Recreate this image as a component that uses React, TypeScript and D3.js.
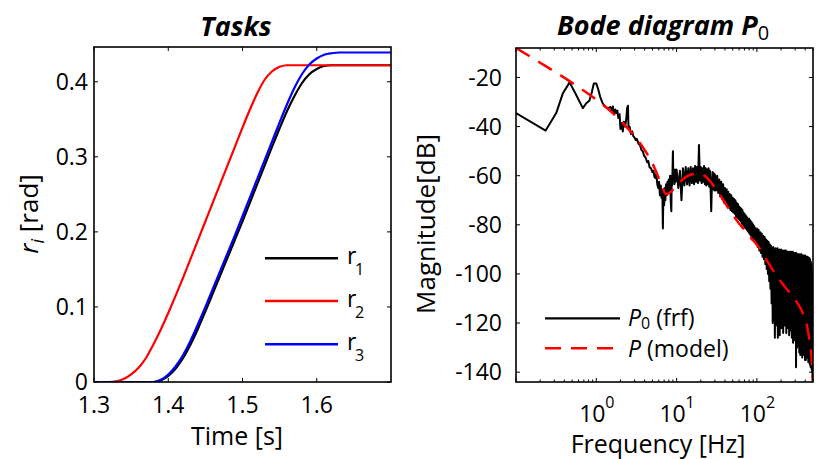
import React from "react";
import * as d3 from "d3";

// ---------- Left panel data (Tasks) ----------
const timeGrid = [
  1.30, 1.31, 1.32, 1.33, 1.34, 1.35, 1.36, 1.37, 1.38, 1.39,
  1.40, 1.41, 1.42, 1.43, 1.44, 1.45, 1.46, 1.47, 1.48, 1.49,
  1.50, 1.51, 1.52, 1.53, 1.54, 1.55, 1.56, 1.57, 1.58, 1.59,
  1.60, 1.61, 1.62, 1.63, 1.64, 1.65, 1.66, 1.67, 1.68, 1.69, 1.70,
];
const r1Values = [
  0, 0, 0, 0, 0, 0, 0, 0, 0, 0.002,
  0.008, 0.018, 0.032, 0.050, 0.071, 0.094, 0.118, 0.142, 0.166, 0.190,
  0.214, 0.239, 0.264, 0.289, 0.314, 0.338, 0.361, 0.381, 0.398, 0.410,
  0.417, 0.421, 0.422, 0.422, 0.422, 0.422, 0.422, 0.422, 0.422, 0.422, 0.422,
];
const r2Values = [
  0, 0, 0, 0.001, 0.004, 0.010, 0.019, 0.032, 0.050, 0.070,
  0.092, 0.115, 0.139, 0.164, 0.189, 0.214, 0.239, 0.264, 0.289, 0.314,
  0.339, 0.363, 0.385, 0.403, 0.414, 0.420, 0.422, 0.422, 0.422, 0.422,
  0.422, 0.422, 0.422, 0.422, 0.422, 0.422, 0.422, 0.422, 0.422, 0.422, 0.422,
];
const r3Values = [
  0, 0, 0, 0, 0, 0, 0, 0, 0, 0.003,
  0.010, 0.021, 0.036, 0.055, 0.077, 0.100, 0.124, 0.148, 0.172, 0.196,
  0.221, 0.246, 0.271, 0.296, 0.321, 0.346, 0.370, 0.392, 0.410, 0.423,
  0.431, 0.436, 0.438, 0.439, 0.439, 0.439, 0.439, 0.439, 0.439, 0.439, 0.439,
];
const taskColors = ["#000000", "#ff0000", "#0000ff"];
const taskNames = ["1", "2", "3"];
const timeTicks = [1.3, 1.4, 1.5, 1.6];
const rTicks = [0, 0.1, 0.2, 0.3, 0.4];

// ---------- Right panel data (Bode) ----------
const modelFreq = [
  0.1, 0.2, 0.5, 1, 2, 3, 4, 5, 6, 6.7, 7.4, 8.5, 10, 12, 14, 16, 18.4, 21, 25,
  30, 35, 40, 48, 60, 70, 85, 100, 130, 170, 220, 300, 350, 390, 420, 447, 470,
  485, 495, 500,
];
const modelDb = [
  -8, -14, -22.2, -29, -37.5, -44, -49.5, -55, -61, -65, -67.5, -66.5, -64,
  -61.5, -60, -59.3, -59, -59.5, -61.5, -64.8, -68, -71, -75, -79.5, -82,
  -85.5, -88, -94, -100, -105, -110.5, -114, -117.5, -121, -126, -131, -136,
  -142, -150,
];

const frfLowFreq = [
  0.1, 0.234, 0.317, 0.384, 0.465, 0.55, 0.68, 0.75, 0.82, 0.88, 0.93, 1.0,
  1.05, 1.12, 1.2, 1.3, 1.4, 1.5, 1.58, 1.61, 1.66, 1.72, 1.77, 1.83, 1.88,
  1.95, 2.0, 2.07, 2.14, 2.2, 2.28, 2.36, 2.42, 2.48, 2.52, 2.6, 2.7, 2.8, 2.9,
  3.0, 3.1, 3.2, 3.35, 3.5, 3.65, 3.8, 3.95, 4.1, 4.3, 4.45, 4.6, 4.8, 5.0,
  5.15, 5.3, 5.5, 5.6, 5.75, 5.9, 6.05, 6.2, 6.35, 6.5, 6.65, 6.75, 6.85, 7.0,
  7.1, 7.25, 7.4, 7.55, 7.7, 7.85, 8.0, 8.15, 8.3, 8.45, 8.6, 8.7, 8.8, 8.9,
  9.0, 9.1, 9.25, 9.4, 9.55, 9.7, 9.85,
];
const frfLowDb = [
  -34.5, -41.6, -34.5, -26.4, -22, -26.5, -32.5, -30.5, -29.5, -26, -22.5,
  -22.5, -24.5, -28, -30.5, -32, -32.5, -32, -33.5, -31.8, -35, -33, -34.5,
  -33.5, -36.5, -35, -41, -38.5, -42, -38, -40, -37, -32.5, -31.5, -41, -40,
  -43, -42, -44, -44.5, -45.5, -45, -47, -47.5, -49.5, -50, -52, -52.5, -54.5,
  -54, -56.5, -57, -58.5, -58, -60.5, -61, -59, -63.5, -65, -62.5, -68, -64,
  -69, -66, -81.5, -67, -72, -65, -70, -63.5, -68, -62.5, -66.5, -61.5, -67,
  -60, -70, -74.5, -60, -64, -58, -50, -61, -58, -63.5, -57.5, -62.5, -58,
];

// 10 .. 29.5 Hz, 0.5 Hz resolution
const frfMidAFreq = d3.range(0, 40).map((i) => 10 + i * 0.5);
const frfMidADb = [
  -57.5, -65, -58, -70, -57, -64, -56.5, -63.5, -57, -64,
  -56.5, -63, -57, -63.5, -56, -62.5, -56.5, -63, -47.5, -62,
  -56.5, -63, -57, -62.5, -56, -63.5, -57, -64, -57.5, -63.5,
  -57, -64.5, -58, -65, -74.5, -64, -58.5, -65.5, -59, -66,
];
// 30 .. 99 Hz, 1 Hz resolution
const frfMidBFreq = d3.range(30, 100, 1);
const frfMidBDb = [
  -59.5, -66, -60, -67, -61.5, -68.5, -62.5, -69.5, -63.5, -71,
  -65, -71.5, -65.5, -72.5, -66.5, -73, -67.5, -74, -68, -74.5,
  -69, -75, -69.5, -75.5, -70, -76.5, -71, -77, -71.5, -77.5,
  -72.5, -78, -73, -78.5, -73.5, -79.5, -74, -80, -75, -80.5,
  -75.5, -81, -76, -81.5, -76.5, -82, -77, -82.5, -77.5, -83,
  -77.5, -83.5, -78, -84, -78.5, -84.5, -79, -85, -79.5, -85.5,
  -80, -86, -80.5, -86.5, -81, -87, -81.5, -87.5, -82, -88,
];
// 100 .. 500 Hz, 2.5 Hz resolution
const frfHighFreq = d3.range(0, 161).map((i) => 100 + i * 2.5);
const frfHighDb = [
  -81.5, -89, -82, -90.5, -83, -91.5, -83.5, -93, -84.5, -94,
  -85, -96, -86, -98, -86.5, -100, -87, -103, -88, -106,
  -88.5, -112, -89.5, -120, -89, -114, -90.5, -126, -89.5, -117,
  -91, -121, -89.5, -126, -91.5, -114, -90, -125, -92, -118,
  -90, -122, -92.5, -115, -90.5, -124, -93, -117, -90.5, -121,
  -92.5, -114, -90.5, -124, -93, -119, -91, -122, -93, -116,
  -91, -125, -93.5, -119, -91, -123, -94, -118, -91, -126,
  -93.5, -121, -91, -128, -94, -119, -91.5, -124, -94, -127,
  -91.5, -122, -94, -138, -91.5, -126, -94, -130, -92, -124,
  -94.5, -129, -92, -125, -94.5, -132, -92, -127, -94.5, -133,
  -92, -126, -95, -131, -92, -128, -95, -134, -92.5, -129,
  -95, -132, -92.5, -127, -95.5, -133, -92.5, -130, -95.5, -135,
  -92.5, -131, -96, -135, -93, -132, -96, -134, -93, -130,
  -96.5, -134, -93, -132, -96.5, -136, -93.5, -131, -97, -135,
  -93.5, -133, -97, -137, -94, -134, -97.5, -138, -95, -135,
  -98, -137, -96, -139, -99, -140, -99, -142, -102, -144,
  -146,
];

const dbTicks = [-140, -120, -100, -80, -60, -40, -20];
const freqMajor = [0.1, 1, 10, 100];
const freqLabels = [
  { f: 1, exp: "0" },
  { f: 10, exp: "1" },
  { f: 100, exp: "2" },
];

const FONT = "'Open Sans', 'DejaVu Sans', sans-serif";

export default function App() {
  // Left panel geometry
  const L = { x0: 94, x1: 391, y0: 47, y1: 382 };
  const xT = d3.scaleLinear().domain([1.3, 1.7]).range([L.x0, L.x1]);
  const yR = d3.scaleLinear().domain([0, 0.4463]).range([L.y1, L.y0]);

  // Right panel geometry
  const R = { x0: 516, x1: 813, y0: 48, y1: 382 };
  const xF = d3.scaleLog().domain([0.1, 500]).range([R.x0, R.x1]);
  const yD = d3.scaleLinear().domain([-144, -8]).range([R.y1, R.y0]);

  const taskLine = d3
    .line<number>()
    .x((_, i) => xT(timeGrid[i]))
    .y((d) => yR(d))
    .curve(d3.curveMonotoneX);
  const taskSeries = [r1Values, r2Values, r3Values];

  const pair = (fs: number[], ds: number[]) =>
    fs.map((f, i) => [f, ds[i]] as [number, number]);
  const frfPts: [number, number][] = [
    ...pair(frfLowFreq, frfLowDb),
    ...pair(frfMidAFreq, frfMidADb),
    ...pair(frfMidBFreq, frfMidBDb),
    ...pair(frfHighFreq, frfHighDb),
  ];
  const bodeLine = d3
    .line<[number, number]>()
    .x((d) => xF(d[0]))
    .y((d) => yD(d[1]));
  const modelPts = pair(modelFreq, modelDb);
  const modelLine = d3
    .line<[number, number]>()
    .x((d) => xF(d[0]))
    .y((d) => yD(d[1]))
    .curve(d3.curveMonotoneX);

  const minorTicks: number[] = [];
  [0.1, 1, 10, 100].forEach((dec) => {
    for (let k = 2; k <= 9; k++) {
      const v = k * dec;
      if (v <= 500) minorTicks.push(v);
    }
  });

  const tickLen = 4;
  const minorLen = 2.5;
  const fs = 23;
  const lfs = 26;

  return (
    <div style={{ position: "fixed", left: 0, top: 0 }}>
      <svg width={817} height={459} style={{ display: "block", background: "#fff" }} fontFamily={FONT}>
        <defs>
          <clipPath id="clipL">
            <rect x={L.x0} y={L.y0} width={L.x1 - L.x0} height={L.y1 - L.y0} />
          </clipPath>
          <clipPath id="clipR">
            <rect x={R.x0} y={R.y0} width={R.x1 - R.x0} height={R.y1 - R.y0} />
          </clipPath>
        </defs>

        {/* ================= LEFT PANEL ================= */}
        <text x={236} y={36} fontSize={27} fontWeight="bold" fontStyle="italic" textAnchor="middle">
          Tasks
        </text>

        <g clipPath="url(#clipL)">
          {taskSeries.map((vals, si) => (
            <path key={si} d={taskLine(vals) || ""} fill="none" stroke={taskColors[si]} strokeWidth={2.2} />
          ))}
        </g>

        {timeTicks.map((t) => (
          <g key={"tt" + t}>
            <line x1={xT(t)} x2={xT(t)} y1={L.y1} y2={L.y1 - tickLen} stroke="#000" strokeWidth={1} />
            <line x1={xT(t)} x2={xT(t)} y1={L.y0} y2={L.y0 + tickLen} stroke="#000" strokeWidth={1} />
            <text x={xT(t)} y={413} fontSize={fs} textAnchor="middle">
              {t.toFixed(1)}
            </text>
          </g>
        ))}
        {rTicks.map((v) => (
          <g key={"rt" + v}>
            <line x1={L.x0} x2={L.x0 + tickLen} y1={yR(v)} y2={yR(v)} stroke="#000" strokeWidth={1} />
            <line x1={L.x1} x2={L.x1 - tickLen} y1={yR(v)} y2={yR(v)} stroke="#000" strokeWidth={1} />
            <text x={88} y={yR(v)} dy="0.34em" fontSize={fs} textAnchor="end">
              {v === 0 ? "0" : v.toFixed(1)}
            </text>
          </g>
        ))}
        <rect x={L.x0} y={L.y0} width={L.x1 - L.x0} height={L.y1 - L.y0} fill="none" stroke="#000" strokeWidth={1.6} />

        <text x={237} y={445} fontSize={25} textAnchor="middle">
          Time [s]
        </text>
        <text transform={`translate(38,${214}) rotate(-90)`} fontSize={lfs} textAnchor="middle">
          <tspan fontStyle="italic">r</tspan>
          <tspan fontStyle="italic" fontSize={18} dy={6}>i</tspan>
          <tspan dy={-6}> [rad]</tspan>
        </text>

        {[258.3, 301, 344.3].map((ly, i) => (
          <g key={"lg" + i}>
            <line x1={265} x2={338} y1={ly} y2={ly} stroke={taskColors[i]} strokeWidth={2.4} />
            <text x={347} y={ly + 5.5} fontSize={fs}>r</text>
            <text x={355} y={ly + 17} fontSize={16}>{taskNames[i]}</text>
          </g>
        ))}

        {/* ================= RIGHT PANEL ================= */}
        <text x={557} y={35} fontSize={27} fontWeight="bold" fontStyle="italic">
          Bode diagram P
          <tspan fontSize={20} fontWeight="normal" fontStyle="normal" dy={5}>0</tspan>
        </text>

        <g clipPath="url(#clipR)">
          <path d={bodeLine(frfPts) || ""} fill="none" stroke="#000" strokeWidth={2} strokeLinejoin="round" />
          <path
            d={modelLine(modelPts) || ""}
            fill="none"
            stroke="#ff0000"
            strokeWidth={2.5}
            strokeDasharray="16 10"
          />
        </g>

        {dbTicks.map((v) => (
          <g key={"db" + v}>
            <line x1={R.x0} x2={R.x0 + tickLen} y1={yD(v)} y2={yD(v)} stroke="#000" strokeWidth={1} />
            <line x1={R.x1} x2={R.x1 - tickLen} y1={yD(v)} y2={yD(v)} stroke="#000" strokeWidth={1} />
            <text x={502} y={yD(v)} dy="0.36em" fontSize={fs} textAnchor="end">
              {v}
            </text>
          </g>
        ))}
        {freqMajor.map((f) => (
          <g key={"fm" + f}>
            <line x1={xF(f)} x2={xF(f)} y1={R.y1} y2={R.y1 - tickLen} stroke="#000" strokeWidth={1} />
            <line x1={xF(f)} x2={xF(f)} y1={R.y0} y2={R.y0 + tickLen} stroke="#000" strokeWidth={1} />
          </g>
        ))}
        {minorTicks.map((f) => (
          <g key={"fn" + f}>
            <line x1={xF(f)} x2={xF(f)} y1={R.y1} y2={R.y1 - minorLen} stroke="#000" strokeWidth={1} />
            <line x1={xF(f)} x2={xF(f)} y1={R.y0} y2={R.y0 + minorLen} stroke="#000" strokeWidth={1} />
          </g>
        ))}
        {freqLabels.map((d) => (
          <g key={"fl" + d.f}>
            <text x={xF(d.f) - 4} y={422} fontSize={fs} textAnchor="middle">
              10
            </text>
            <text x={xF(d.f) + 9} y={408} fontSize={16} textAnchor="start">
              {d.exp}
            </text>
          </g>
        ))}
        <rect x={R.x0} y={R.y0} width={R.x1 - R.x0} height={R.y1 - R.y0} fill="none" stroke="#000" strokeWidth={1.6} />

        <text x={658} y={453} fontSize={25} textAnchor="middle">
          Frequency [Hz]
        </text>
        <text transform={`translate(435,${224}) rotate(-90)`} fontSize={lfs} textAnchor="middle">
          Magnitude[dB]
        </text>

        <line x1={545} x2={620} y1={318.3} y2={318.3} stroke="#000" strokeWidth={2.2} />
        <text x={628} y={326} fontSize={fs}>
          <tspan fontStyle="italic">P</tspan>
          <tspan fontSize={16} dy={3}>0</tspan>
          <tspan dy={-3}> (frf)</tspan>
        </text>
        <line x1={545} x2={620} y1={348.3} y2={348.3} stroke="#ff0000" strokeWidth={2.5} strokeDasharray="16 10" />
        <text x={628} y={357} fontSize={fs}>
          <tspan fontStyle="italic">P</tspan>
          <tspan> (model)</tspan>
        </text>
      </svg>
    </div>
  );
}
